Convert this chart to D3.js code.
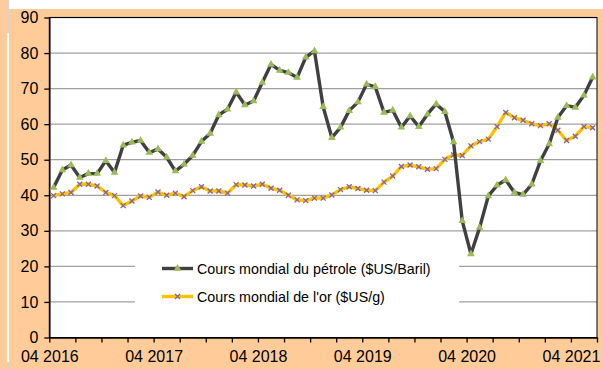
<!DOCTYPE html>
<html>
<head>
<meta charset="utf-8">
<script src="https://cdn.jsdelivr.net/npm/d3@7"></script>
<style>
  html, body { margin: 0; padding: 0; background: #ffffff; }
  svg { display: block; }
  text { font-family: "Liberation Sans", Arial, sans-serif; }
</style>
</head>
<body>
<svg id="chart" width="603" height="369"></svg>
<script>
// Monthly series, April 2016 – June 2021
const startYear = 2016, startMonth = 4;
const oilPrice = [42.2, 47.1, 48.5, 45.0, 46.1, 46.1, 49.7, 46.4, 54.1, 54.9, 55.4, 52.0,
  53.0, 50.7, 46.8, 48.7, 51.2, 55.1, 57.4, 62.6, 64.2, 69.0, 65.4, 66.5,
  71.7, 76.8, 75.1, 74.5, 73.1, 78.8, 80.6, 64.9, 56.2, 59.1, 63.8, 66.2,
  71.2, 70.5, 63.3, 63.9, 59.1, 62.3, 59.3, 62.8, 65.7, 63.5, 55.0, 32.8,
  23.5, 30.9, 39.8, 42.8, 44.3, 40.8, 40.2, 43.1, 49.7, 54.4, 61.9, 65.2,
  64.7, 68.1, 73.2];
const goldPrice = [39.9, 40.4, 40.8, 43.1, 43.1, 42.6, 40.8, 39.9, 37.1, 38.4, 39.8, 39.4,
  40.9, 40.0, 40.6, 39.6, 41.3, 42.4, 41.2, 41.2, 40.6, 43.0, 42.9, 42.6,
  43.1, 42.0, 41.4, 40.0, 38.7, 38.5, 39.2, 39.2, 40.1, 41.6, 42.4, 41.9,
  41.4, 41.3, 43.7, 45.4, 48.1, 48.5, 48.0, 47.3, 47.5, 50.1, 51.4, 51.2,
  53.9, 55.1, 55.8, 59.3, 63.3, 61.8, 61.1, 60.1, 59.6, 60.1, 58.3, 55.4,
  56.6, 59.3, 59.0];
const months = oilPrice.map((_, i) => {
  const m = startMonth - 1 + i;
  return new Date(startYear + Math.floor(m / 12), m % 12, 1);
});
const yTicks = [0, 10, 20, 30, 40, 50, 60, 70, 80, 90];
const xLabels = ["04 2016", "04 2017", "04 2018", "04 2019", "04 2020", "04 2021"];
const seriesNames = ["Cours mondial du pétrole ($US/Baril)", "Cours mondial de l'or ($US/g)"];

const svg = d3.select("#chart");

// Page frame
svg.append("rect").attr("x", 0).attr("y", 0).attr("width", 7).attr("height", 369).attr("fill", "#FFCC99");
svg.append("rect").attr("x", 7).attr("y", 0).attr("width", 2).attr("height", 33).attr("fill", "#d4d4d4");
svg.append("rect").attr("x", 7).attr("y", 362).attr("width", 2).attr("height", 7).attr("fill", "#d4d4d4");
svg.append("rect").attr("x", 9).attr("y", 9).attr("width", 594).attr("height", 360).attr("fill", "#FFCC99");

const plot = { left: 49.3, right: 597, top: 17.5, bottom: 337.5 };

// Month index scale: month i occupies [i, i+1]
const x = d3.scaleLinear().domain([0, months.length]).range([plot.left, plot.right]);
const y = d3.scaleLinear().domain([0, 90]).range([plot.bottom, plot.top]);

svg.append("rect")
  .attr("x", plot.left).attr("y", plot.top)
  .attr("width", plot.right - plot.left).attr("height", plot.bottom - plot.top)
  .attr("fill", "#ffffff");

// Gridlines
svg.append("g").selectAll("line").data(yTicks.filter(v => v > 0)).join("line")
  .attr("x1", plot.left).attr("x2", plot.right)
  .attr("y1", d => y(d)).attr("y2", d => y(d))
  .attr("stroke", "#a0a0a0").attr("stroke-width", 1.3);

// Legend background (covers gridlines)
const legend = svg.append("g");
legend.append("rect").attr("x", 135).attr("y", 250).attr("width", 324).attr("height", 68).attr("fill", "#ffffff");

// Plot border
svg.append("rect")
  .attr("x", plot.left).attr("y", plot.top)
  .attr("width", plot.right - plot.left).attr("height", plot.bottom - plot.top)
  .attr("fill", "none").attr("stroke", "#000").attr("stroke-width", 1);

// Axes
const yAxis = svg.append("g").attr("transform", `translate(${plot.left},0)`)
  .call(d3.axisLeft(y).tickValues(yTicks).tickSize(5).tickPadding(6).tickSizeOuter(0));
const xTickVals = d3.range(0, months.length + 1, 3);
const xAxis = svg.append("g").attr("transform", `translate(0,${plot.bottom})`)
  .call(d3.axisBottom(x).tickValues(xTickVals).tickSize(5).tickPadding(8).tickSizeOuter(0)
    .tickFormat(i => (i % 12 === 0 && xLabels[i / 12]) ? xLabels[i / 12] : ""));
[yAxis, xAxis].forEach(g => {
  g.select(".domain").attr("stroke", "#000").attr("stroke-width", 1.5);
  g.selectAll(".tick line").attr("stroke", "#000").attr("stroke-width", 1.3);
  g.selectAll(".tick text").attr("fill", "#000").style("font-size", "16px")
    .style("font-family", '"Liberation Sans", Arial, sans-serif');
});

// Markers
const triPath = d3.symbol().type(d3.symbolTriangle).size(26)();
const crossPath = "M-2.5,-2.5L2.5,2.5M-2.5,2.5L2.5,-2.5";

function drawSeries(values, lineColor, markerFn) {
  const line = d3.line().x((d, i) => x(i + 0.5)).y(d => y(d));
  svg.append("path").datum(values).attr("d", line)
    .attr("fill", "none").attr("stroke", lineColor).attr("stroke-width", 3.4)
    .attr("stroke-linejoin", "round").attr("stroke-linecap", "round");
  const g = svg.append("g");
  values.forEach((v, i) => markerFn(g, x(i + 0.5), y(v)));
}
const triMarker = (g, cx, cy) => g.append("path").attr("d", triPath)
  .attr("transform", `translate(${cx},${cy})`).attr("fill", "#9BBB59");
const crossMarker = (g, cx, cy) => g.append("path").attr("d", crossPath)
  .attr("transform", `translate(${cx},${cy})`).attr("fill", "none")
  .attr("stroke", "#8064A2").attr("stroke-width", 1.3);

drawSeries(goldPrice, "#FFC000", crossMarker);
drawSeries(oilPrice, "#404040", triMarker);

// Legend entries
const legendRows = [
  { name: seriesNames[0], color: "#404040", marker: triMarker, y: 268.5 },
  { name: seriesNames[1], color: "#FFC000", marker: crossMarker, y: 296.5 }
];
legendRows.forEach(r => {
  legend.append("line").attr("x1", 162).attr("x2", 193).attr("y1", r.y).attr("y2", r.y)
    .attr("stroke", r.color).attr("stroke-width", 3.4);
  r.marker(legend, 177.5, r.y);
  legend.append("text").attr("x", 197).attr("y", r.y + 5.3)
    .style("font-size", "14.3px").attr("fill", "#000").text(r.name);
});
</script>
</body>
</html>
